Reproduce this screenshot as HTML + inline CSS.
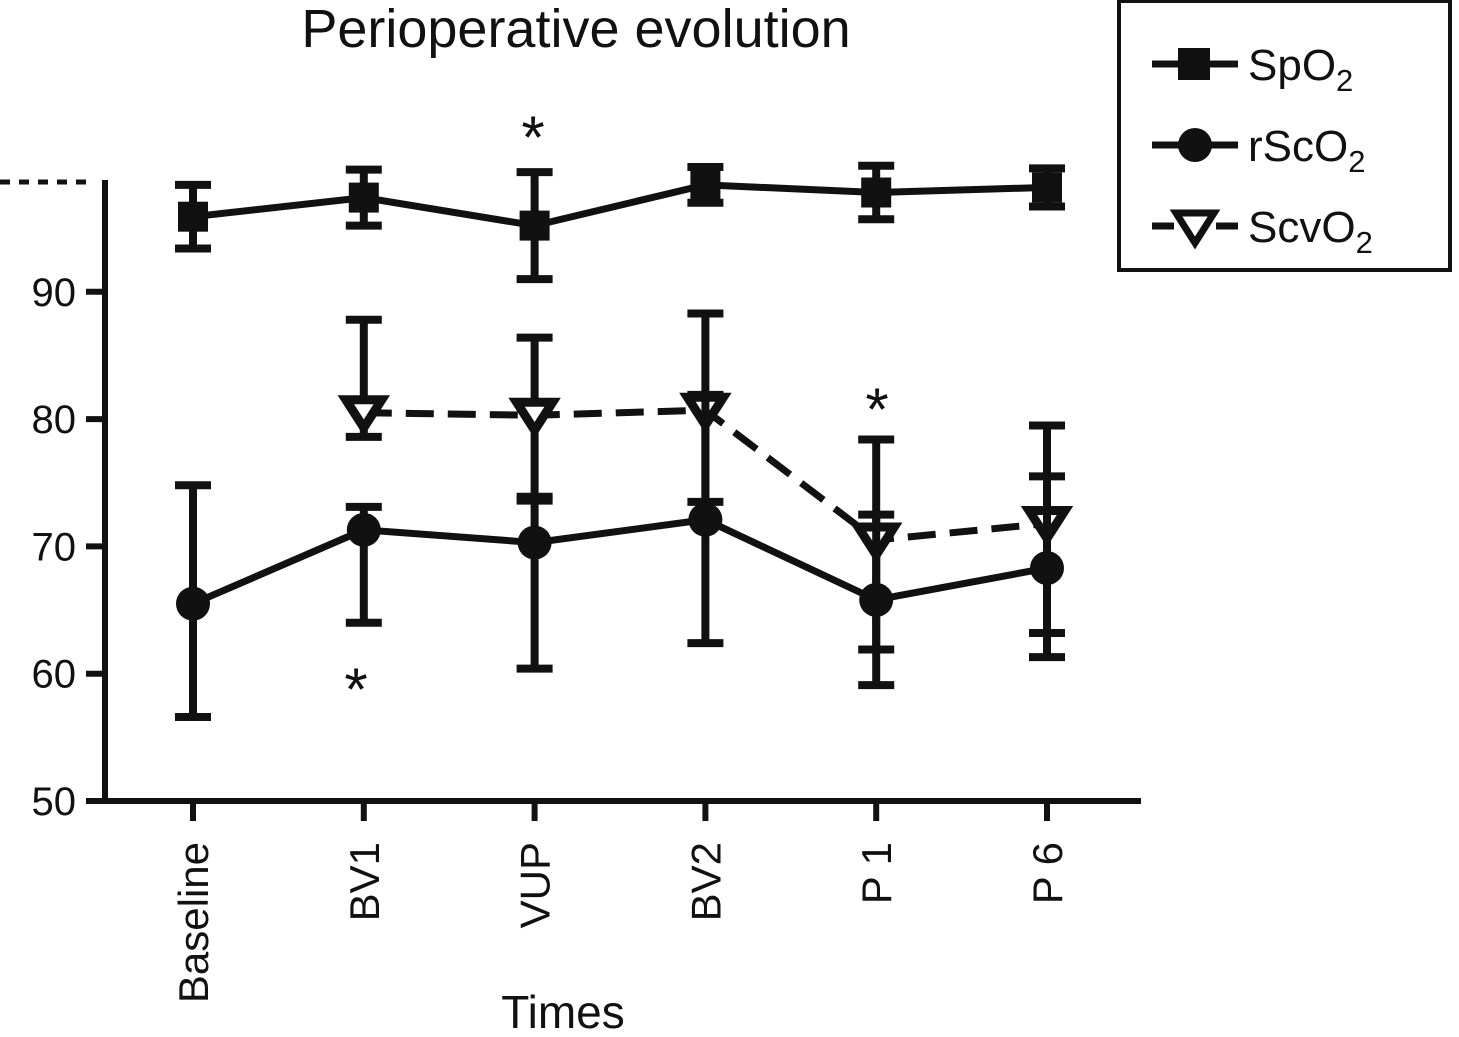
<!DOCTYPE html>
<html><head><meta charset="utf-8"><style>
html,body{margin:0;padding:0;background:#fff;}
svg{display:block;font-family:"Liberation Sans",Arial,sans-serif;}
</style></head><body>
<svg id="chart" width="1459" height="1037" viewBox="0 0 1459 1037">
<text x="576" y="47" font-size="54" text-anchor="middle" fill="#111">Perioperative evolution</text>
<g id="axes"></g><g id="series"></g>
<text x="563" y="1028" font-size="46" text-anchor="middle" fill="#111">Times</text>
<g font-size="60" fill="#111" text-anchor="middle">
<text x="533" y="158">*</text>
<text x="356" y="710">*</text>
<text x="877" y="430">*</text>
</g>
<g>
<rect x="1119" y="1" width="331" height="269" fill="#fff" stroke="#111" stroke-width="4"/>
<g>
<line x1="1152" y1="64" x2="1238" y2="64" stroke="#111" stroke-width="7"/>
<rect x="1178" y="48" width="32" height="32" fill="#111"/>
<text x="1248" y="80" font-size="44" fill="#111">SpO<tspan font-size="31" dy="11">2</tspan></text></g>
<g>
<line x1="1152" y1="145" x2="1238" y2="145" stroke="#111" stroke-width="7"/>
<circle cx="1195" cy="145" r="17" fill="#111"/>
<text x="1248" y="161" font-size="44" fill="#111">rScO<tspan font-size="31" dy="11">2</tspan></text></g>
<g>
<line x1="1152" y1="226" x2="1238" y2="226" stroke="#111" stroke-width="7" stroke-dasharray="22,10"/>
<polygon points="1176,213 1214,213 1195,243" fill="#fff" stroke="#111" stroke-width="7"/>
<text x="1248" y="242" font-size="44" fill="#111">ScvO<tspan font-size="31" dy="11">2</tspan></text></g>
</g>
</svg>
<script>
const categories = ["Baseline","BV1","VUP","BV2","P 1","P 6"];
const yTicks = [50,60,70,80,90];
const spo2Mean = [95.9,97.4,95.2,98.4,97.8,98.2];
const spo2Hi = [98.4,99.6,99.4,99.8,99.9,99.7];
const spo2Lo = [93.4,95.2,91.0,97.0,95.7,96.7];
const rsco2Mean = [65.5,71.3,70.3,72.1,65.8,68.3];
const rsco2Hi = [74.8,73.1,73.6,81.9,72.5,75.5];
const rsco2Lo = [56.6,64.0,60.4,62.4,59.1,61.3];
const scvo2Mean = [null,80.5,80.3,80.7,70.5,71.8];
const scvo2Hi = [null,87.8,86.4,88.3,78.4,79.5];
const scvo2Lo = [null,78.6,73.9,73.5,61.9,63.2];

const NS="http://www.w3.org/2000/svg";
const y = v => 801 - (v-50)*12.73;
const x = i => 193 + i*170.8;
function mk(tag, attrs, parent){const e=document.createElementNS(NS,tag);for(const k in attrs)e.setAttribute(k,attrs[k]);parent.appendChild(e);return e;}
const axes=document.getElementById('axes'), ser=document.getElementById('series');

let e=mk('line',{x1:105,y1:180,x2:105,y2:804,stroke:'#111','stroke-width':6},axes);


e=mk('line',{x1:0,y1:182,x2:92,y2:182,stroke:'#111','stroke-width':5,'stroke-dasharray':'10,9'},axes);


e=mk('line',{x1:102,y1:801,x2:1141,y2:801,stroke:'#111','stroke-width':6},axes);


yTicks.forEach(v=>{
  const t=mk('line',{x1:86,y1:y(v),x2:105,y2:y(v),stroke:'#111','stroke-width':6},axes);
  
  
  const l=mk('text',{x:76,y:y(v)+14,'font-size':40,'text-anchor':'end',fill:'#111'},axes);
  l.textContent=v;
  
  
});
categories.forEach((c,i)=>{
  const t=mk('line',{x1:x(i),y1:801,x2:x(i),y2:821,stroke:'#111','stroke-width':6},axes);
  
  
  const l=mk('text',{x:0,y:0,'font-size':42,'text-anchor':'end',fill:'#111',transform:`translate(${x(i)+15},842) rotate(-90)`},axes);
  l.textContent=c;
  
  
});

function drawSeries(name, mean, hi, lo, marker, dash){
  const g=mk('g',{},ser);
  
  
  const pts=[];
  mean.forEach((m,i)=>{ if(m!=null) pts.push(x(i)+','+y(m)); });
  const p=mk('polyline',{points:pts.join(' '),fill:'none',stroke:'#111','stroke-width':7,'stroke-dasharray':dash||'none'},g);
  
  
  mean.forEach((m,i)=>{
    if(m==null) return;
    const cx=x(i);
    const eb=mk('path',{d:`M${cx},${y(hi[i])}V${y(lo[i])}M${cx-18},${y(hi[i])}H${cx+18}M${cx-18},${y(lo[i])}H${cx+18}`,stroke:'#111','stroke-width':8,fill:'none'},g);
    
    
    let mkEl;
    const cy=y(m);
    if(marker==='square') mkEl=mk('rect',{x:cx-15,y:cy-15,width:30,height:30,fill:'#111'},g);
    else if(marker==='circle') mkEl=mk('circle',{cx:cx,cy:cy,r:17,fill:'#111'},g);
    else mkEl=mk('polygon',{points:`${cx-18},${cy-13} ${cx+18},${cy-13} ${cx},${cy+15}`,fill:'#fff',stroke:'#111','stroke-width':9},g);
    
    
  });
}
drawSeries('scvo2',scvo2Mean,scvo2Hi,scvo2Lo,'triangle','28,14');
drawSeries('rsco2',rsco2Mean,rsco2Hi,rsco2Lo,'circle');
drawSeries('spo2',spo2Mean,spo2Hi,spo2Lo,'square');
</script>
</body></html>
